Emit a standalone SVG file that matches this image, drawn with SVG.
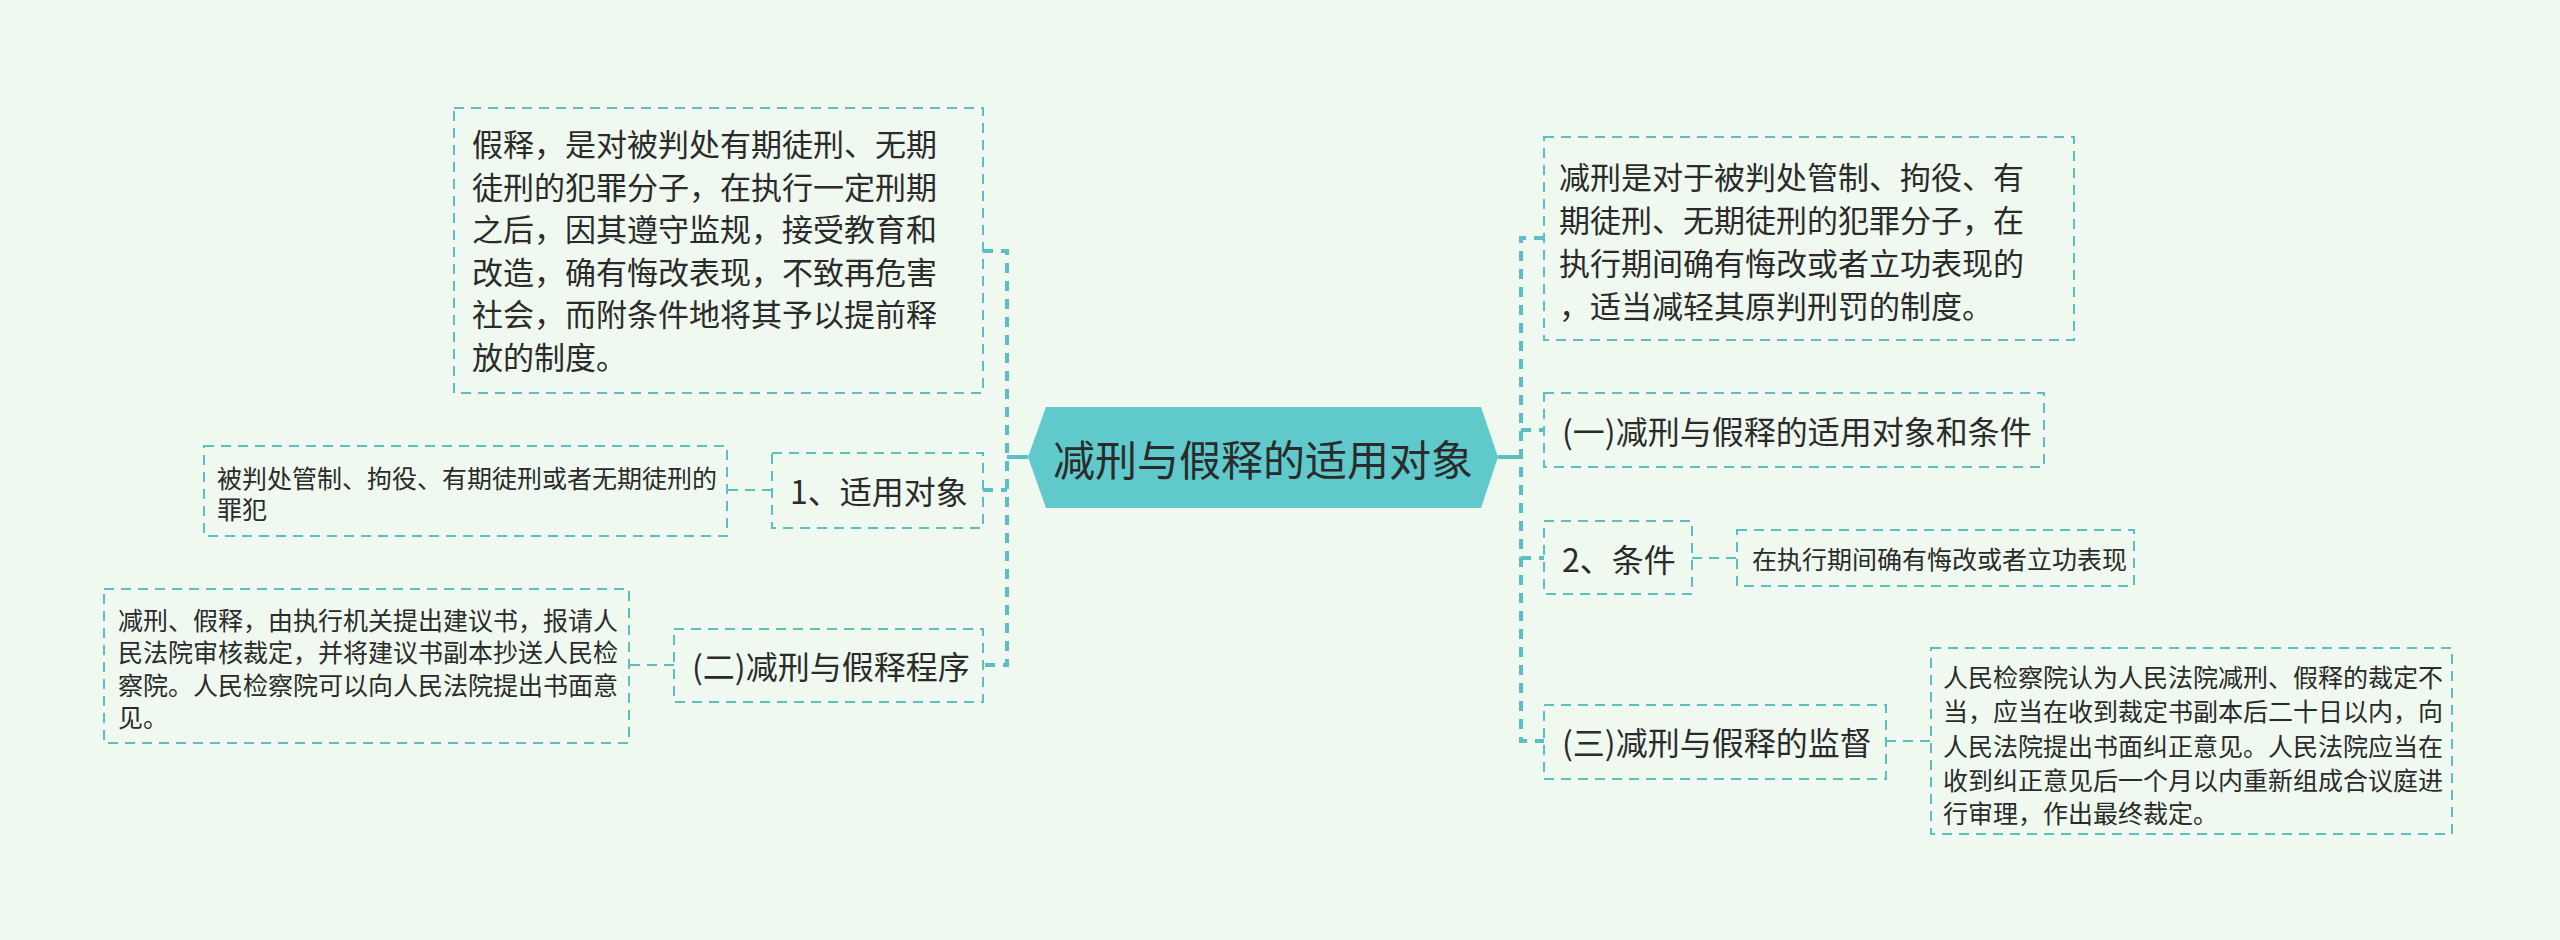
<svg xmlns="http://www.w3.org/2000/svg" width="2560" height="940" viewBox="0 0 2560 940">
<style>
.box{fill:none;stroke:#5BBFC4;stroke-width:2;stroke-dasharray:10 7}
.ln{fill:none;stroke:#5BBFC4;stroke-width:4;stroke-dasharray:10 8}
.ls{fill:none;stroke:#5BBFC4;stroke-width:2;stroke-dasharray:10 7}
.t{font-family:"Noto Sans CJK SC","Noto Sans",sans-serif;fill:#2b2b2b;dominant-baseline:central}
.f32{font-size:32px}
.f31{font-size:31px}
.f25{font-size:25px}
</style>
<rect width="2560" height="940" fill="#EFF9EF"/>
<g id="connectors">
<line x1="1028" y1="457" x2="1007" y2="457" stroke="#5BBFC4" stroke-width="4"/>
<line x1="1498" y1="457" x2="1521" y2="457" stroke="#5BBFC4" stroke-width="4"/>
<path class="ln" d="M983 251 H1007 V665 H983"/>
<path class="ln" d="M983 490 H1007"/>
<path class="ln" d="M1544 238 H1521 V741 H1544"/>
<path class="ln" d="M1521 430 H1544"/>
<path class="ln" d="M1521 558 H1544"/>
<path class="ls" d="M772 490 H727"/>
<path class="ls" d="M674 665 H629"/>
<path class="ls" d="M1692 558 H1737"/>
<path class="ls" d="M1886 741 H1931"/>
</g>
<g id="root">
<polygon points="1028,457 1046,407 1481,407 1498,457 1481,508 1046,508" fill="#60C9CC"/>
<text class="t" x="1263" y="457" font-size="42" text-anchor="middle">减刑与假释的适用对象</text>
</g>
<g id="n-jiashi">
<rect class="box" x="454" y="108" width="529" height="285"/>
<text class="t f31"><tspan x="472" y="142">假释，是对被判处有期徒刑、无期</tspan><tspan x="472" y="185">徒刑的犯罪分子，在执行一定刑期</tspan><tspan x="472" y="227">之后，因其遵守监规，接受教育和</tspan><tspan x="472" y="270">改造，确有悔改表现，不致再危害</tspan><tspan x="472" y="312">社会，而附条件地将其予以提前释</tspan><tspan x="472" y="355">放的制度。</tspan></text>
</g>
<g id="n-duixiang">
<rect class="box" x="772" y="453" width="211" height="75"/>
<text class="t f32" x="790" y="490">1、适用对象</text>
</g>
<g id="n-duixiang-c">
<rect class="box" x="204" y="446" width="523" height="90"/>
<text class="t f25"><tspan x="217" y="477">被判处管制、拘役、有期徒刑或者无期徒刑的</tspan><tspan x="217" y="508">罪犯</tspan></text>
</g>
<g id="n-chengxu">
<rect class="box" x="674" y="629" width="309" height="73"/>
<text class="t f32" x="692" y="665">(二)减刑与假释程序</text>
</g>
<g id="n-chengxu-c">
<rect class="box" x="104" y="589" width="525" height="154"/>
<text class="t f25"><tspan x="118" y="619">减刑、假释，由执行机关提出建议书，报请人</tspan><tspan x="118" y="651">民法院审核裁定，并将建议书副本抄送人民检</tspan><tspan x="118" y="684">察院。人民检察院可以向人民法院提出书面意</tspan><tspan x="118" y="716">见。</tspan></text>
</g>
<g id="n-jianxing">
<rect class="box" x="1544" y="137" width="530" height="203"/>
<text class="t f31"><tspan x="1559" y="175">减刑是对于被判处管制、拘役、有</tspan><tspan x="1559" y="218">期徒刑、无期徒刑的犯罪分子，在</tspan><tspan x="1559" y="261">执行期间确有悔改或者立功表现的</tspan><tspan x="1559" y="304">，适当减轻其原判刑罚的制度。</tspan></text>
</g>
<g id="n-yi">
<rect class="box" x="1544" y="393" width="500" height="74"/>
<text class="t f32" x="1562" y="430">(一)减刑与假释的适用对象和条件</text>
</g>
<g id="n-tiaojian">
<rect class="box" x="1544" y="521" width="148" height="73"/>
<text class="t f32" x="1562" y="558">2、条件</text>
</g>
<g id="n-tiaojian-c">
<rect class="box" x="1737" y="530" width="397" height="56"/>
<text class="t f25" x="1752" y="558">在执行期间确有悔改或者立功表现</text>
</g>
<g id="n-san">
<rect class="box" x="1544" y="705" width="342" height="74"/>
<text class="t f32" x="1562" y="741">(三)减刑与假释的监督</text>
</g>
<g id="n-san-c">
<rect class="box" x="1931" y="648" width="521" height="186"/>
<text class="t f25"><tspan x="1943" y="676">人民检察院认为人民法院减刑、假释的裁定不</tspan><tspan x="1943" y="710">当，应当在收到裁定书副本后二十日以内，向</tspan><tspan x="1943" y="745">人民法院提出书面纠正意见。人民法院应当在</tspan><tspan x="1943" y="779">收到纠正意见后一个月以内重新组成合议庭进</tspan><tspan x="1943" y="812">行审理，作出最终裁定。</tspan></text>
</g>
</svg>
